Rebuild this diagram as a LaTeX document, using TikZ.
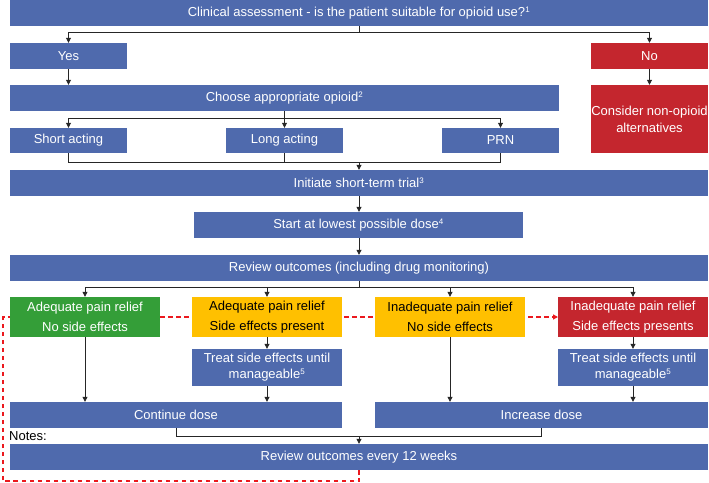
\documentclass[tikz,border=0pt]{standalone}
\usepackage{fontspec}
\setmainfont{Liberation Sans}
\usetikzlibrary{arrows.meta}
\definecolor{bblue}{RGB}{79,106,173}
\definecolor{bgreen}{RGB}{52,158,56}
\definecolor{borange}{RGB}{255,192,0}
\definecolor{bred}{RGB}{196,38,46}
\definecolor{dred}{RGB}{235,25,30}
\newcommand{\fnm}[1]{\textsuperscript{\fontsize{8}{8}\selectfont #1}}
\begin{document}
\begin{tikzpicture}[x=1pt,y=-1pt,
  box/.style={fill=bblue, text=white, inner sep=0pt, align=center, font=\fontsize{13}{16}\selectfont},
  gbox/.style={box, fill=bgreen, font=\fontsize{13}{20}\selectfont},
  obox/.style={box, fill=borange, text=black, font=\fontsize{13}{20}\selectfont},
  rbox/.style={box, fill=bred, font=\fontsize{13}{20}\selectfont},
  sz/.style 2 args={minimum width=#1pt, minimum height=#2pt},
  ln/.style={draw=black!85, line width=0.8pt},
  conn/.style={ln, -{Triangle[width=5pt,length=5pt]}},
  rdash/.style={draw=dred, line width=1.2pt, dash pattern=on 4.5pt off 3.5pt, -{Triangle[width=5pt,length=5pt]}}
]
\useasboundingbox (0,0) rectangle (709,482);
\coordinate (d1) at (359,481);
\coordinate (d2) at (3,481);
\coordinate (d3) at (3,317);

\node[box, sz={698}{26}] (top) at (359,13) {Clinical assessment - is the patient suitable for opioid use?\fnm{1}};
\node[box, sz={117}{26}] (yes) at (68.5,56) {Yes};
\node[rbox, sz={117}{26}] (no) at (649.5,56) {No};
\node[box, sz={549}{26}] (choose) at (284.5,98) {Choose appropriate opioid\fnm{2}};
\node[rbox, sz={117}{68}, font=\fontsize{13}{17}\selectfont] (consider) at (649.5,119) {Consider non-opioid\\alternatives};
\node[box, sz={117}{25}] (short) at (68.5,140.5) {Short acting};
\node[box, sz={117}{25}] (long) at (284.5,140.5) {Long acting};
\node[box, sz={117}{25}] (prn) at (500.5,140.5) {PRN};
\node[box, sz={698}{26}] (initiate) at (359,183) {Initiate short-term trial\fnm{3}};
\node[box, sz={329}{26}] (start) at (358.5,225) {Start at lowest possible dose\fnm{4}};
\node[box, sz={698}{26}] (review) at (359,268) {Review outcomes (including drug monitoring)};

\draw[rdash] (359,470) -- (d1) -- (d2) -- (d3) -- (558,317);

\node[gbox, sz={150}{40}] (green) at (85,317) {Adequate pain relief\\No side effects};
\node[obox, sz={150}{40}] (or1) at (267,317) {Adequate pain relief\\Side effects present};
\node[obox, sz={150}{40}] (or2) at (450,317) {Inadequate pain relief\\No side effects};
\node[rbox, sz={150}{40}] (red) at (633,317) {Inadequate pain relief\\Side effects presents};
\node[box, sz={150}{37}] (treat1) at (267,367.5) {Treat side effects until\\manageable\fnm{5}};
\node[box, sz={150}{37}] (treat2) at (633,367.5) {Treat side effects until\\manageable\fnm{5}};
\node[box, sz={332}{26}] (continue) at (176,415) {Continue dose};
\node[box, sz={333}{26}] (increase) at (541.5,415) {Increase dose};
\node[box, sz={698}{26}] (final) at (359,457) {Review outcomes every 12 weeks};
\node[anchor=west, inner sep=0pt, font=\fontsize{13}{16}\selectfont] (notes) at (9,436.5) {Notes:};

\draw[ln] (top.south) -- ++(0,6.5) coordinate (tj);
\draw[conn] (tj) -| (yes.north);
\draw[conn] (tj) -| (no.north);
\draw[conn] (yes.south) -- (choose.north -| yes.south);
\draw[conn] (no.south) -- (consider.north);
\draw[ln] (choose.south) -- ++(0,7) coordinate (cj);
\draw[conn] (cj) -| (short.north);
\draw[conn] (cj) -| (prn.north);
\draw[conn] (cj) -- (long.north);
\draw[ln] (short.south) -- ++(0,9) coordinate (sj) -- (prn.south |- sj) -- (prn.south);
\draw[ln] (long.south) -- (long.south |- sj);
\draw[conn] (initiate.north |- sj) -- (initiate.north);
\draw[conn] (initiate.south) -- (start.north -| initiate.south);
\draw[conn] (start.south -| initiate.south) -- (review.north);
\draw[ln] (review.south) -- ++(0,6) coordinate (rj);
\draw[conn] (rj) -| (green.north);
\draw[conn] (rj) -| (or1.north);
\draw[conn] (rj) -| (or2.north);
\draw[conn] (rj) -| (red.north);
\draw[conn] (green.south) -- (green.south |- continue.north);
\draw[conn] (or1.south) -- (treat1.north);
\draw[conn] (treat1.south) -- (treat1.south |- continue.north);
\draw[conn] (or2.south) -- (or2.south |- increase.north);
\draw[conn] (red.south) -- (treat2.north);
\draw[conn] (treat2.south) -- (treat2.south |- increase.north);
\draw[ln] (continue.south) -- ++(0,8) coordinate (fj) -- (increase.south |- fj) -- (increase.south);
\draw[conn] (final.north |- fj) -- (final.north);
\end{tikzpicture}
\end{document}
